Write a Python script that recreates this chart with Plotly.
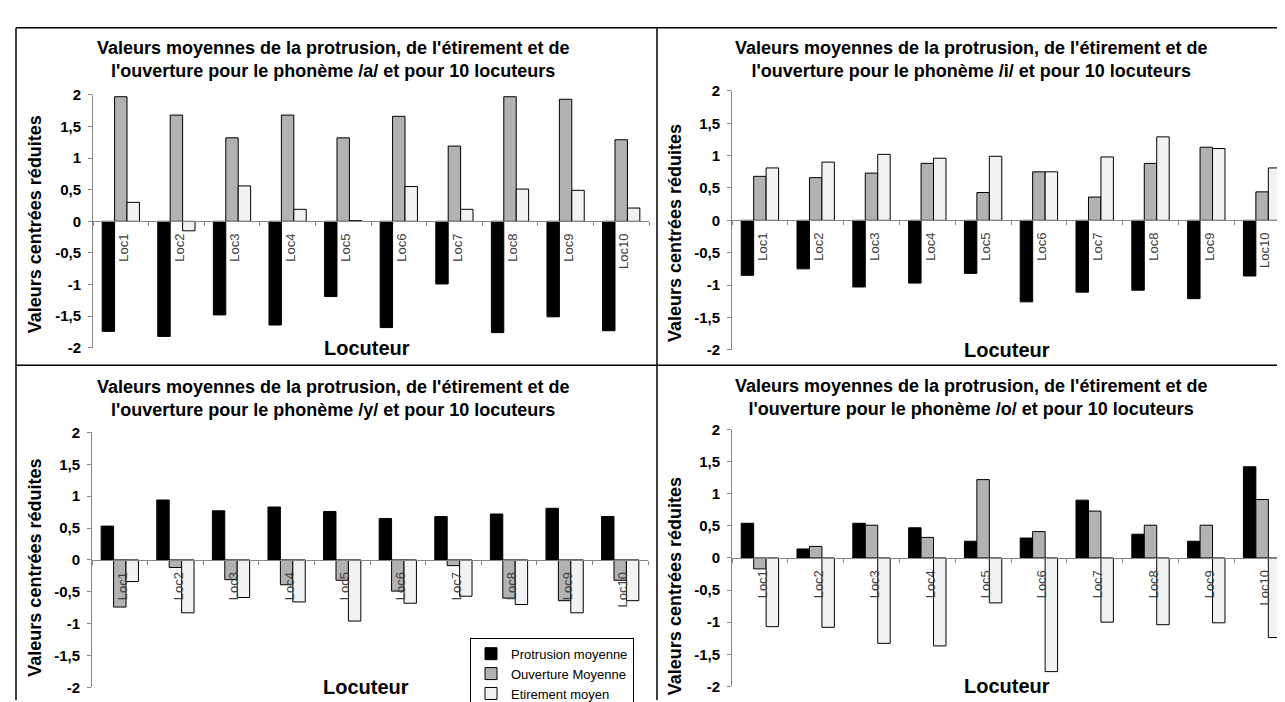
import plotly.graph_objects as go

# ---------------- data ----------------
locuteurs = ["Loc1", "Loc2", "Loc3", "Loc4", "Loc5", "Loc6", "Loc7", "Loc8", "Loc9", "Loc10"]
series_names = ["Protrusion moyenne", "Ouverture Moyenne", "Etirement moyen"]
phonemes = ["a", "i", "y", "o"]

a_protrusion = [-1.74, -1.82, -1.48, -1.64, -1.19, -1.68, -0.99, -1.76, -1.51, -1.73]
a_ouverture = [1.97, 1.68, 1.32, 1.68, 1.32, 1.66, 1.19, 1.97, 1.93, 1.29]
a_etirement = [0.30, -0.15, 0.56, 0.19, 0.01, 0.55, 0.19, 0.51, 0.49, 0.21]

i_protrusion = [-0.85, -0.75, -1.03, -0.97, -0.82, -1.26, -1.11, -1.08, -1.21, -0.86]
i_ouverture = [0.68, 0.66, 0.73, 0.88, 0.43, 0.75, 0.36, 0.88, 1.13, 0.44]
i_etirement = [0.81, 0.90, 1.02, 0.96, 0.99, 0.75, 0.98, 1.29, 1.11, 0.81]

y_protrusion = [0.53, 0.94, 0.77, 0.83, 0.76, 0.65, 0.68, 0.72, 0.81, 0.68]
y_ouverture = [-0.74, -0.12, -0.31, -0.39, -0.32, -0.49, -0.09, -0.60, -0.64, -0.32]
y_etirement = [-0.34, -0.83, -0.59, -0.66, -0.96, -0.68, -0.57, -0.70, -0.83, -0.64]

o_protrusion = [0.54, 0.14, 0.54, 0.47, 0.26, 0.31, 0.90, 0.37, 0.26, 1.42]
o_ouverture = [-0.17, 0.18, 0.51, 0.32, 1.22, 0.41, 0.73, 0.51, 0.51, 0.91]
o_etirement = [-1.07, -1.08, -1.33, -1.37, -0.70, -1.77, -1.00, -1.04, -1.01, -1.24]

y_tickvals = [-2, -1.5, -1, -0.5, 0, 0.5, 1, 1.5, 2]
y_ticktext = ["-2", "-1,5", "-1", "-0,5", "0", "0,5", "1", "1,5", "2"]

title_template = ("Valeurs moyennes de la protrusion, de l'étirement et de<br>"
                  "l'ouverture pour le phonème /{}/ et pour 10 locuteurs")
y_title = "Valeurs centrées réduites"
x_title = "Locuteur"

# ---------------- styling / layout ----------------
W, H = 1285, 702
FONT = "Arial, Liberation Sans, sans-serif"
bar_colors = ["#000000", "#b2b2b2", "#f2f2f2"]
axis_gray = "#868686"


def px(x):
    return x / W


def py(y):
    return 1 - y / H


series_by_phoneme = {
    "a": (a_protrusion, a_ouverture, a_etirement),
    "i": (i_protrusion, i_ouverture, i_etirement),
    "y": (y_protrusion, y_ouverture, y_etirement),
    "o": (o_protrusion, o_ouverture, o_etirement),
}

# pixel geometry: plot (x0, x1, ytop, ybottom), box (x0, x1, y0, y1), title center y, ytitle (x, y)
panels = [
    dict(plot=(85, 641, 80, 340), box=(8, 649, 11, 358), ty=44, yt=(27, 213)),
    dict(plot=(724, 1282, 76, 342), box=(649, 1285, 11, 358), ty=44, yt=(667, 222)),
    dict(plot=(84, 640, 427, 689), box=(8, 649, 358, 702), ty=392, yt=(27, 566)),
    dict(plot=(724, 1282, 424, 688), box=(649, 1285, 358, 702), ty=391, yt=(667, 585)),
]

fig = go.Figure()
annotations = []
layout_axes = {}

for k, (ph, pan) in enumerate(zip(phonemes, panels), start=1):
    xs = "" if k == 1 else str(k)
    x0, x1, yt, yb = pan["plot"]
    yd = [py(yb), py(yt)]
    for s, (name, vals, col) in enumerate(zip(series_names, series_by_phoneme[ph], bar_colors)):
        fig.add_trace(go.Bar(
            x=locuteurs, y=vals, name=name,
            marker=dict(color=col, line=dict(color="#000000", width=1)),
            xaxis="x" + xs, yaxis="y" + xs,
            showlegend=(ph == "y"), legendrank=s + 1,
        ))
    layout_axes["xaxis" + xs] = dict(
        domain=[px(x0), px(x1)], anchor="free", position=(yd[0] + yd[1]) / 2,
        type="category", range=[-0.5, len(locuteurs) - 0.5],
        showline=True, linecolor=axis_gray, linewidth=1,
        ticks="outside", tickson="boundaries", ticklen=4, tickcolor=axis_gray,
        tickangle=-90, ticklabelstandoff=6, ticklabelshift=3,
        tickfont=dict(family=FONT, size=13, color="#404040"),
        showgrid=False, zeroline=False, fixedrange=True,
    )
    layout_axes["yaxis" + xs] = dict(
        domain=yd, anchor="x" + xs, range=[-2, 2],
        tickmode="array", tickvals=y_tickvals, ticktext=y_ticktext,
        showline=True, linecolor=axis_gray, linewidth=1,
        ticks="outside", ticklen=4, tickcolor=axis_gray, ticklabelstandoff=4,
        tickfont=dict(family=FONT, size=15, color="#000000", weight="bold"),
        showgrid=False, zeroline=False, fixedrange=True,
    )
    bx0, bx1, by0, by1 = pan["box"]
    annotations.append(dict(
        text="<b>" + title_template.format(ph) + "</b>",
        x=px((bx0 + bx1) / 2), y=py(pan["ty"]), xref="paper", yref="paper",
        xanchor="center", yanchor="middle", showarrow=False, xshift=-4,
        font=dict(family=FONT, size=18, color="#000000"),
    ))
    annotations.append(dict(
        text="<b>" + y_title + "</b>", textangle=-90,
        x=px(pan["yt"][0]), y=py(pan["yt"][1]), xref="paper", yref="paper",
        xanchor="center", yanchor="middle", showarrow=False,
        font=dict(family=FONT, size=18, color="#000000"),
    ))
    annotations.append(dict(
        text="<b>" + x_title + "</b>",
        x=0.5, y=0, xref="x" + xs + " domain", yref="y" + xs + " domain",
        xanchor="center", yanchor="middle", showarrow=False, xshift=-4,
        font=dict(family=FONT, size=20, color="#000000"),
    ))

shapes = []
line_style = dict(color="#000000", width=1.5)
for (xa, ya, xb, yb2) in [(8, 11, 1285, 11), (8, 11, 8, 702), (649, 11, 649, 702), (8, 358, 1285, 358)]:
    shapes.append(dict(type="line", xref="paper", yref="paper",
                       x0=px(xa), y0=py(ya), x1=px(xb), y1=py(yb2), line=line_style))

fig.update_layout(
    width=W, height=H, margin=dict(l=0, r=0, t=0, b=0),
    paper_bgcolor="white", plot_bgcolor="rgba(0,0,0,0)",
    barmode="group", bargap=0.33, bargroupgap=0,
    separators=", ",
    font=dict(family=FONT, color="#000000"),
    annotations=annotations, shapes=shapes,
    legend=dict(x=px(462), y=py(638), xanchor="left", yanchor="top",
                bgcolor="white", bordercolor="#000000", borderwidth=1,
                font=dict(family=FONT, size=13, color="#000000"),
                tracegroupgap=0, itemwidth=30, traceorder="normal"),
    **layout_axes,
)

fig.write_html("out.html")
